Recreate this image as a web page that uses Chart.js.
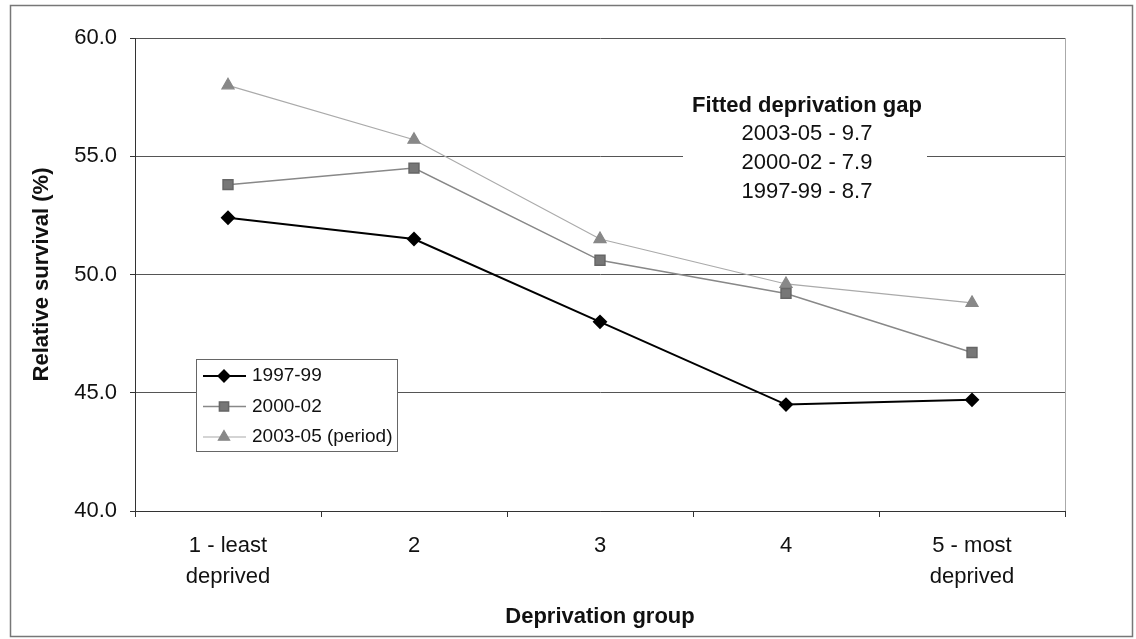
<!DOCTYPE html>
<html>
<head>
<meta charset="utf-8">
<script src="https://cdn.jsdelivr.net/npm/chart.js@4.4.0/dist/chart.umd.min.js"></script>
<style>
  body { margin: 0; background: #fff; }
  canvas { display: block; }
</style>
</head>
<body>
<canvas id="survivalChart" width="1136" height="639"></canvas>
<script>
const groups = [['1 - least', 'deprived'], '2', '3', '4', ['5 - most', 'deprived']];
const survival9799 = [52.4, 51.5, 48.0, 44.5, 44.7];
const survival0002 = [53.8, 54.5, 50.6, 49.2, 46.7];
const survival0305 = [58.0, 55.7, 51.5, 49.6, 48.8];
const yTicks = [40, 45, 50, 55, 60];
const gapTitle = 'Fitted deprivation gap';
const gapLines = ['2003-05 - 9.7', '2000-02 - 7.9', '1997-99 - 8.7'];

const FONT = 'Liberation Sans, Arial, sans-serif';

// outer frame + light right edge of the plot
const framePlugin = {
  id: 'frame',
  afterDraw(chart) {
    const ctx = chart.ctx, a = chart.chartArea;
    ctx.save();
    ctx.strokeStyle = '#777';
    ctx.lineWidth = 1.5;
    ctx.strokeRect(10.5, 5.5, 1122, 631);
    ctx.strokeStyle = '#aaa';
    ctx.lineWidth = 1;
    ctx.beginPath();
    ctx.moveTo(Math.round(a.right) + 0.5, a.top);
    ctx.lineTo(Math.round(a.right) + 0.5, a.bottom);
    ctx.stroke();
    ctx.restore();
  }
};

// white text box with the fitted gap figures, sits over the gridline
const gapPlugin = {
  id: 'gapBox',
  beforeDatasetsDraw(chart) {
    const ctx = chart.ctx;
    ctx.save();
    ctx.fillStyle = '#fff';
    ctx.fillRect(683, 85, 244, 125);
    ctx.fillStyle = '#111';
    ctx.textAlign = 'center';
    ctx.textBaseline = 'middle';
    ctx.font = 'bold 22px ' + FONT;
    ctx.fillText(gapTitle, 807, 106);
    ctx.font = '22px ' + FONT;
    gapLines.forEach((t, i) => ctx.fillText(t, 807, 134 + i * 29));
    ctx.restore();
  }
};

// boxed legend inside the plot area
const legendPlugin = {
  id: 'boxLegend',
  afterDatasetsDraw(chart) {
    const ctx = chart.ctx;
    ctx.save();
    ctx.fillStyle = '#fff';
    ctx.fillRect(196, 359, 201, 92);
    ctx.strokeStyle = '#666';
    ctx.lineWidth = 1;
    ctx.strokeRect(196.5, 359.5, 201, 92);
    ctx.font = '19px ' + FONT;
    ctx.textBaseline = 'middle';
    chart.data.datasets.forEach((ds, i) => {
      const y = 376 + i * 30.5;
      ctx.strokeStyle = ds.borderColor;
      ctx.lineWidth = ds.borderWidth;
      ctx.beginPath();
      ctx.moveTo(203, y);
      ctx.lineTo(246, y);
      ctx.stroke();
      ctx.fillStyle = ds.pointBackgroundColor;
      ctx.strokeStyle = ds.pointBorderColor;
      Chart.helpers.drawPoint(ctx, {
        pointStyle: ds.pointStyle, radius: ds.pointRadius - 0.5,
        borderWidth: 1, rotation: 0
      }, 224, y);
      ctx.fillStyle = '#111';
      ctx.fillText(ds.label, 252, y);
    });
    ctx.restore();
  }
};

new Chart(document.getElementById('survivalChart'), {
  type: 'line',
  data: {
    labels: groups,
    datasets: [
      {
        label: '1997-99', data: survival9799,
        borderColor: '#000', borderWidth: 2,
        pointStyle: 'rectRot', pointRadius: 6,
        pointBackgroundColor: '#000', pointBorderColor: '#000'
      },
      {
        label: '2000-02', data: survival0002,
        borderColor: '#888', borderWidth: 1.5,
        pointStyle: 'rect', pointRadius: 7,
        pointBackgroundColor: '#777', pointBorderColor: '#666'
      },
      {
        label: '2003-05 (period)', data: survival0305,
        borderColor: '#aaa', borderWidth: 1.2,
        pointStyle: 'triangle', pointRadius: 7,
        pointBackgroundColor: '#888', pointBorderColor: '#888'
      }
    ]
  },
  options: {
    responsive: false,
    animation: false,
    layout: { padding: { top: 38, right: 71, bottom: 0, left: 0 } },
    plugins: { legend: { display: false }, tooltip: { enabled: false } },
    elements: { line: { tension: 0 } },
    scales: {
      x: {
        offset: true,
        grid: { offset: true, drawOnChartArea: false, tickLength: 6, tickColor: '#333' },
        border: { color: '#333', width: 1 },
        ticks: { color: '#111', padding: 14, maxRotation: 0, font: { family: FONT, size: 22, lineHeight: 1.4 } },
        title: { display: true, text: 'Deprivation group', color: '#111', padding: { top: 0, bottom: 9 },
                 font: { family: FONT, size: 22, weight: 'bold' } },
        afterFit: s => { s.height = 128; }
      },
      y: {
        min: 40, max: 60,
        afterBuildTicks: s => { s.ticks = yTicks.map(v => ({ value: v })); },
        grid: { color: '#555', tickLength: 5, tickColor: '#333' },
        border: { color: '#333', width: 1 },
        ticks: { color: '#111', padding: 13, font: { family: FONT, size: 22 }, callback: v => v.toFixed(1) },
        title: { display: true, text: 'Relative survival (%)', color: '#111', padding: { top: 29, bottom: 0 },
                 font: { family: FONT, size: 22, weight: 'bold' } },
        afterFit: s => { s.width = 135; }
      }
    }
  },
  plugins: [framePlugin, gapPlugin, legendPlugin]
});
</script>
</body>
</html>
